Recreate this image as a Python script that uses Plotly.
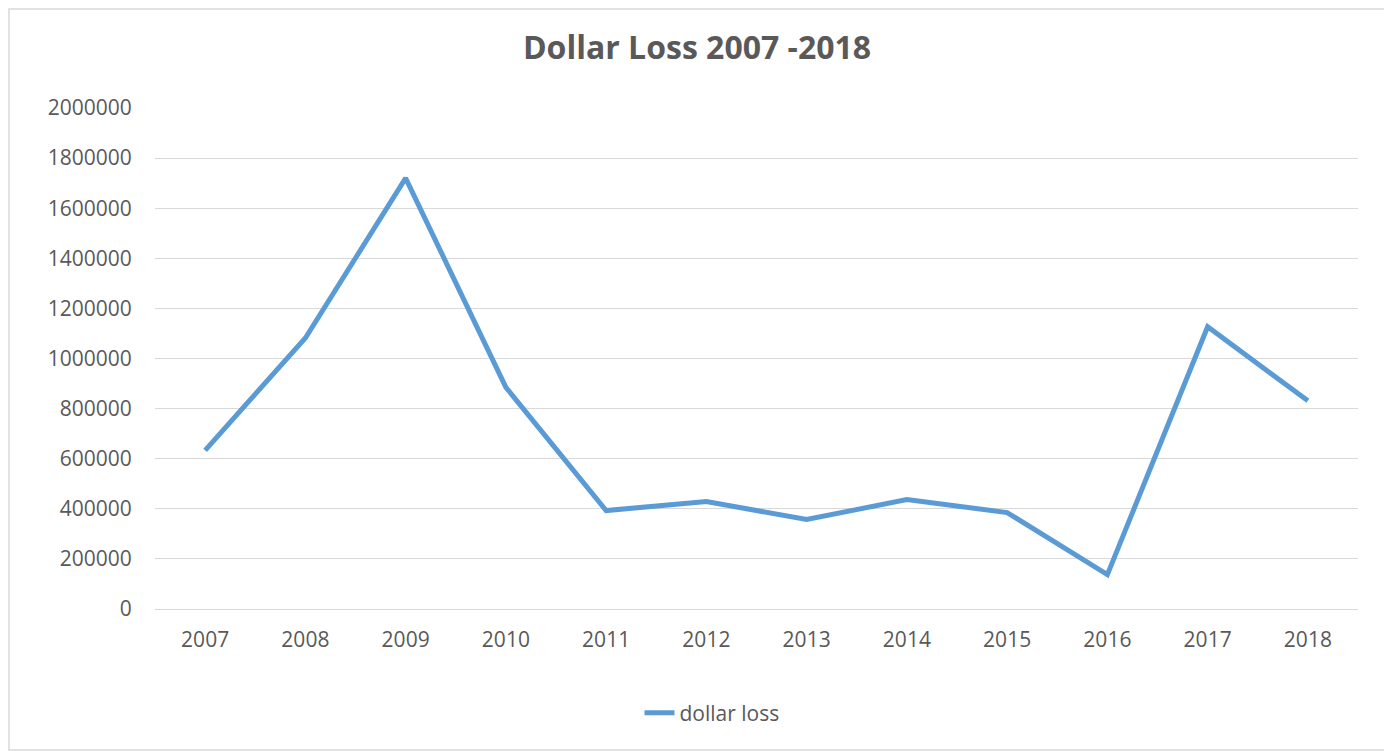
import plotly.graph_objects as go

years = ["2007", "2008", "2009", "2010", "2011", "2012", "2013", "2014", "2015", "2016", "2017", "2018"]
dollar_loss = [633000, 1082000, 1720000, 885000, 393000, 429000, 357000, 437000, 385000, 137000, 1127000, 831000]
y_ticks = [0, 200000, 400000, 600000, 800000, 1000000, 1200000, 1400000, 1600000, 1800000, 2000000]

# page offset of 8px (body margin) is accounted for
W, H = 1384, 743
L, R, T, B = 147, 34, 100, 142
pw, ph = W - L - R, H - T - B

fig = go.Figure()
fig.add_trace(go.Scatter(
    x=years, y=dollar_loss, mode="lines", name="dollar loss",
    line=dict(color="#5B9BD5", width=5),
))

fig.update_layout(
    width=W, height=H,
    margin=dict(l=L, r=R, t=T, b=B, pad=0),
    paper_bgcolor="white", plot_bgcolor="white",
    font=dict(family="Open Sans", color="#595959", size=21),
    title=dict(text="<b>Dollar Loss 2007 -2018</b>", x=(697 - 8) / W, xanchor="center",
               y=1 - (48 - 8) / H, yanchor="middle",
               font=dict(family="Open Sans", size=32, color="#595959")),
    showlegend=True,
    legend=dict(orientation="h", x=0.463, xanchor="center",
                y=(T + ph - (713 - 8)) / ph, yanchor="middle",
                font=dict(size=21, color="#595959")),
    xaxis=dict(type="category", range=[-0.5, 11.5], showgrid=False,
               showline=False, zeroline=False,
               ticks="outside", ticklen=12, tickcolor="rgba(0,0,0,0)",
               tickfont=dict(size=21, color="#595959")),
    yaxis=dict(range=[0, 2000000], tickvals=y_ticks,
               ticktext=[str(v) for v in y_ticks],
               showgrid=True, gridcolor="#D9D9D9", gridwidth=1,
               zeroline=True, zerolinecolor="#D9D9D9", zerolinewidth=1,
               showline=False,
               ticks="outside", ticklen=18, tickcolor="rgba(0,0,0,0)",
               tickfont=dict(size=21, color="#595959")),
)

fig.add_shape(type="rect", xref="paper", yref="paper",
              x0=(1 - L) / pw, x1=(W - 1 - L) / pw,
              y0=(T + ph - (H - 1)) / ph, y1=(T + ph - 1) / ph,
              line=dict(color="#D9D9D9", width=1.5), fillcolor="rgba(0,0,0,0)",
              layer="below")

fig.write_html("out.html")
